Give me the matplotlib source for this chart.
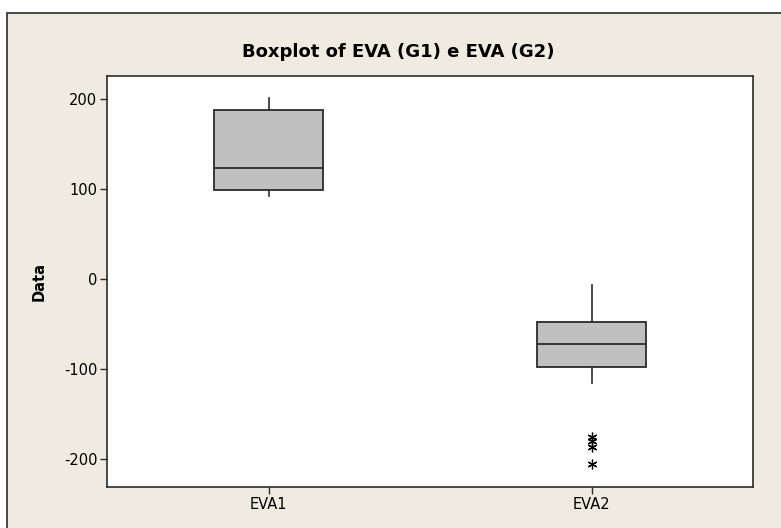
import matplotlib
matplotlib.use('Agg')
import matplotlib.pyplot as plt
from matplotlib.patches import Rectangle

plt.rcParams['font.family'] = 'DejaVu Sans'

# values
categories = ['EVA1', 'EVA2']
whisker_low = [92.6, -115.0]
q1 = [99.0, -98.0]
median = [123.0, -72.0]
q3 = [188.0, -48.0]
whisker_high = [201.5, -6.7]
outliers = [[], [-176.0, -180.0, -187.0, -205.0]]
y_ticks = [-200, -100, 0, 100, 200]

bg = '#EFEBE0'
edge = '#2b2b2b'

fig = plt.figure(figsize=(7.81, 5.28), dpi=100)
fig.patch.set_facecolor('white')

# Minitab-style framed graph region, kept behind the axes
frame = Rectangle((7 / 781, -0.05), 1.1, 1 - 13 / 528 + 0.05, transform=fig.transFigure,
                  facecolor=bg, edgecolor=edge, linewidth=1.2, zorder=-10)
fig.patches.append(frame)

ax = fig.add_axes([107 / 781, 1 - 487 / 528, 646 / 781, (487 - 75.5) / 528])
ax.set_facecolor('white')

stats = []
for i, name in enumerate(categories):
    stats.append({'label': name, 'whislo': whisker_low[i], 'q1': q1[i], 'med': median[i],
                  'q3': q3[i], 'whishi': whisker_high[i], 'fliers': outliers[i]})

ax.bxp(stats, positions=[1, 2], widths=0.335, showcaps=False, patch_artist=True,
       boxprops=dict(facecolor='#C0C0C0', edgecolor=edge, linewidth=1.3),
       medianprops=dict(color=edge, linewidth=1.3),
       whiskerprops=dict(color=edge, linewidth=1.2),
       flierprops=dict(marker=(6, 2, 0), markersize=7, markeredgecolor='black',
                       markeredgewidth=0.9, linestyle='none'))

ax.set_xlim(0.5, 2.5)
ax.set_ylim(-231.1, 226.1)
ax.set_yticks(y_ticks)
ax.set_yticklabels([str(t) for t in y_ticks])
ax.tick_params(axis='both', direction='out', length=5, width=1, color=edge,
               labelsize=10.5, pad=2)
for s in ax.spines.values():
    s.set_color(edge)
    s.set_linewidth(1.2)

ax.set_ylabel('Data', fontsize=10.5, fontweight='bold', labelpad=12)
fig.text(398 / 781, 1 - 52 / 528, 'Boxplot of EVA (G1) e EVA (G2)', ha='center', va='center',
         fontsize=13, fontweight='bold')

fig.savefig('out.png', dpi=100, facecolor=fig.get_facecolor())
